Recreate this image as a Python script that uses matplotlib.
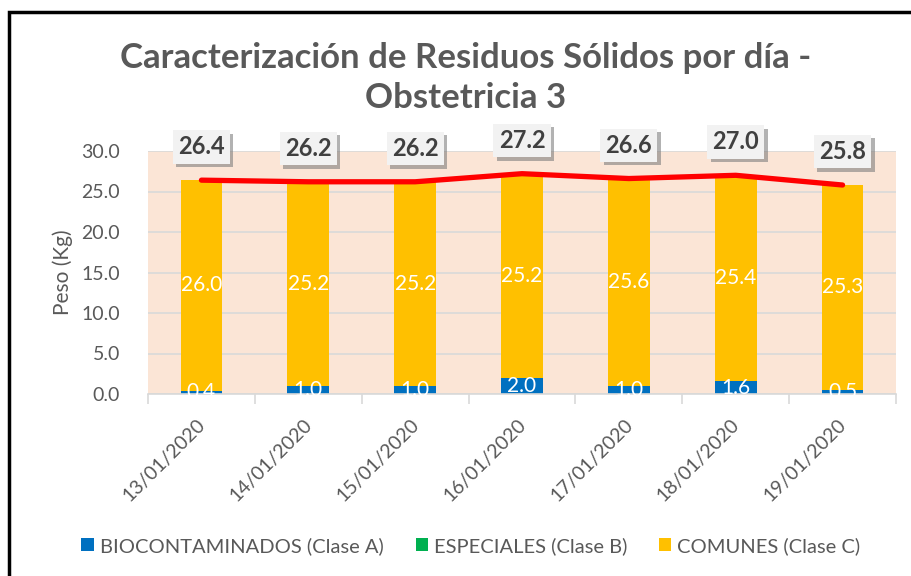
import numpy as np
import matplotlib
matplotlib.use('Agg')
import matplotlib.pyplot as plt
import matplotlib.patheffects as pe
import matplotlib.transforms as mtransforms
from matplotlib.patches import Rectangle

# Data
fechas     = ['13/01/2020', '14/01/2020', '15/01/2020', '16/01/2020',
              '17/01/2020', '18/01/2020', '19/01/2020']
biocontam  = [0.4, 1.0, 1.0, 2.0, 1.0, 1.6, 0.5]
especiales = [0.0, 0.0, 0.0, 0.0, 0.0, 0.0, 0.0]
comunes    = [26.0, 25.2, 25.2, 25.2, 25.6, 25.4, 25.3]
totales    = [26.4, 26.2, 26.2, 27.2, 26.6, 27.0, 25.8]

c_bio = '#0070C0'
c_esp = '#00B050'
c_com = '#FFC000'
gris  = '#595959'

plt.rcParams['font.family'] = ['Lato', 'DejaVu Sans']

fig = plt.figure(figsize=(9.11, 5.76), dpi=100)
ax = fig.add_axes([148/911, 1 - 394/576, (896 - 148)/911, (394 - 151)/576])

x = np.arange(len(fechas))
w = 0.39
bio = np.array(biocontam)
esp = np.array(especiales)
com = np.array(comunes)

ax.bar(x, bio, w, color=c_bio, label='BIOCONTAMINADOS (Clase A)', zorder=2)
ax.bar(x, esp, w, bottom=bio, color=c_esp, label='ESPECIALES (Clase B)', zorder=2)
ax.bar(x, com, w, bottom=bio + esp, color=c_com, label='COMUNES (Clase C)', zorder=2)

# labels inside bars
for i in range(len(x)):
    ax.text(x[i], bio[i] / 2, f'{bio[i]:.1f}', ha='center', va='center',
            color='white', fontsize=15, zorder=3)
    ax.text(x[i], bio[i] + esp[i] + com[i] / 2, f'{com[i]:.1f}', ha='center',
            va='center', color='white', fontsize=15, zorder=3)

# total line
ax.plot(x, totales, color='#FF0000', linewidth=3.8, solid_capstyle='round', zorder=4)

for i in range(len(x)):
    t = ax.annotate(f'{totales[i]:.1f}', (x[i], totales[i]), xytext=(0, 24),
                    textcoords='offset points', ha='center', va='center',
                    fontsize=17, fontweight='bold', color='#404040', zorder=5,
                    annotation_clip=False,
                    bbox=dict(boxstyle='square,pad=0.22', fc='#F2F2F2', ec='none'))
    t.get_bbox_patch().set_path_effects([
        pe.SimplePatchShadow(offset=(2.5, -2.5), shadow_rgbFace='#7F7F7F', alpha=0.6),
        pe.Normal()])

ax.set_facecolor('#FBE5D6')
ax.set_xlim(-0.5, len(x) - 0.5)
ax.set_ylim(0, 30)
ax.set_yticks(np.arange(0, 30.1, 5))
ax.set_yticklabels([f'{v:.1f}' for v in np.arange(0, 30.1, 5)])
ax.yaxis.grid(True, color='#D9D9D9', linewidth=1.2, zorder=0)
ax.set_axisbelow(True)
for s in ['top', 'right', 'left']:
    ax.spines[s].set_visible(False)
ax.spines['bottom'].set_color('#D9D9D9')
ax.spines['bottom'].set_linewidth(1.2)
ax.tick_params(axis='y', length=0, labelsize=14, labelcolor=gris, pad=20)
ax.set_xticks(x)
ax.set_xticklabels(fechas, rotation=45, ha='right', rotation_mode='anchor')
ax.tick_params(axis='x', length=0, labelsize=14, labelcolor=gris, pad=16)
shift = mtransforms.ScaledTranslation(-5/100, 0, fig.dpi_scale_trans)
for lab in ax.get_xticklabels():
    lab.set_transform(lab.get_transform() + shift)
ax.set_xticks(np.arange(-0.5, len(x), 1), minor=True)
ax.tick_params(axis='x', which='minor', length=7, color='#D9D9D9', width=1.2)
ax.set_ylabel('Peso (Kg)', fontsize=15, color=gris, labelpad=6)

fig.text(466/911, 1 - 58/576, 'Caracterización de Residuos Sólidos por día -',
         ha='center', va='center', fontsize=25, fontweight='bold', color=gris)
fig.text(466/911, 1 - 98/576, 'Obstetricia 3',
         ha='center', va='center', fontsize=25, fontweight='bold', color=gris)

fig.legend(loc='center', bbox_to_anchor=(471/911, 1 - 546/576), ncol=3,
           frameon=False, fontsize=14.5, labelcolor=gris, handlelength=0.6,
           handleheight=0.6, handletextpad=0.3, columnspacing=1.6)

# chart frame
fig.patches.append(Rectangle((9/911, -0.1), 1.2, 1 - 12/576 + 0.1,
                             transform=fig.transFigure, fill=False,
                             ec='black', lw=2.5, zorder=10))

plt.savefig('out.png', dpi=100)
